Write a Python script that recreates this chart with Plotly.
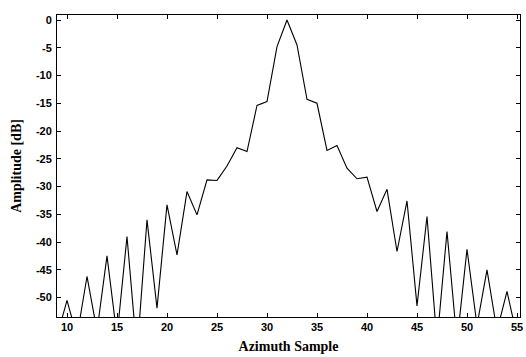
import plotly.graph_objects as go

samples = list(range(9, 56))
amplitude_db = [
    -57.0, -50.5, -57.0, -46.2, -56.0, -42.5, -57.0, -39.0, -60.0, -36.0,   # 9-18
    -51.9, -33.3, -42.3, -30.9, -35.1, -28.8, -28.9, -26.3, -23.0, -23.7,   # 19-28
    -15.4, -14.7, -4.8, 0.0, -4.5, -14.3, -15.0, -23.5, -22.6, -26.7,       # 29-38
    -28.6, -28.3, -34.5, -30.5, -41.7, -32.6, -51.5, -35.4, -58.0, -38.1,   # 39-48
    -58.0, -41.3, -55.0, -45.0, -56.0, -48.9, -57.0,                        # 49-55
]
x_ticks = [10, 15, 20, 25, 30, 35, 40, 45, 50, 55]
y_ticks = [0, -5, -10, -15, -20, -25, -30, -35, -40, -45, -50]

fig = go.Figure()
fig.add_trace(go.Scatter(
    x=samples, y=amplitude_db, mode="lines",
    line=dict(color="black", width=1.1), showlegend=False,
))

axis_common = dict(
    showline=True, linecolor="black", linewidth=1, mirror="ticks",
    ticks="inside", ticklen=4, tickcolor="black",
    showgrid=False, zeroline=False, automargin=False,
    tickfont=dict(family="Liberation Sans", size=11, color="black", weight="bold"),
)
fig.update_xaxes(
    range=[9.0, 55.3], tickvals=x_ticks, ticktext=[str(v) for v in x_ticks],
    ticklabelstandoff=0,
    title=dict(text="Azimuth Sample", standoff=8,
               font=dict(family="Liberation Serif", size=14, color="black", weight="bold")),
    **axis_common,
)
fig.update_yaxes(
    range=[-53.5, 0.9], tickvals=y_ticks, ticktext=[str(v) for v in y_ticks],
    ticklabelstandoff=2,
    title=dict(text="Amplitude [dB]", standoff=10,
               font=dict(family="Liberation Serif", size=14, color="black", weight="bold")),
    **axis_common,
)
fig.update_layout(
    width=526, height=357,
    margin=dict(l=57, r=6, t=15, b=40),
    paper_bgcolor="white", plot_bgcolor="white",
)
fig.write_html(
    "out.html",
    config={"displayModeBar": False},
    post_script="document.body.style.margin='0';document.body.style.overflow='hidden';",
)
